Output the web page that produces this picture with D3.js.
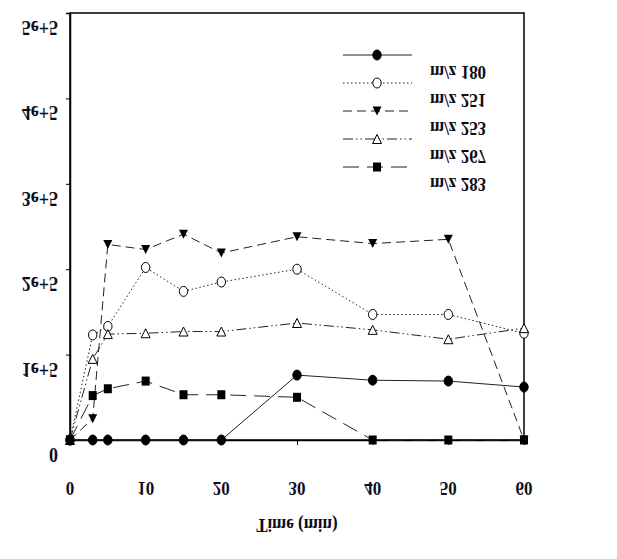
<!DOCTYPE html>
<html><head><meta charset="utf-8">
<script src="https://cdn.jsdelivr.net/npm/d3@7"></script>
<style>body{margin:0;background:#fff}</style>
</head><body>
<svg id="c" width="617" height="559"></svg>
<script>
const times = [0, 3, 5, 10, 15, 20, 30, 40, 50, 60];
const mz180 = [0, 0, 0, 0, 0, 0, 76000, 70000, 69000, 62000];
const mz251 = [0, 123000, 133000, 202000, 174000, 185000, 200000, 147000, 147000, 125000];
const mz253 = [0, 25000, 229000, 223000, 241000, 219000, 238000, 230000, 235000, 0];
const mz267 = [0, 95000, 124000, 125000, 127000, 127000, 137000, 129000, 118000, 131000];
const mz283 = [0, 52000, 60000, 69000, 53000, 53000, 50000, 0, 0, 0];
const seriesNames = ["m/z 180", "m/z 251", "m/z 253", "m/z 267", "m/z 283"];
const xTicks = [0, 10, 20, 30, 40, 50, 60];
const yTicks = [0, 100000, 200000, 300000, 400000, 500000];
const yTickLabels = ["0", "1e+5", "2e+5", "3e+5", "4e+5", "5e+5"];
const xTitle = "Time (min)";

const svg = d3.select("#c");
const L = 70, R = 524, T = 13, B = 440;
const x = d3.scaleLinear().domain([0, 60]).range([L, R]);
const y = d3.scaleLinear().domain([0, 500000]).range([B, T]);
const font = "'Liberation Serif','Times New Roman',serif";
const ink = "#0d0d1a";

function flipText(g, tx, ty, str, size, anchor) {
  g.append("text")
    .attr("transform", `translate(${tx},${ty}) scale(1,-1.15)`)
    .attr("text-anchor", anchor)
    .attr("dominant-baseline", "central")
    .attr("font-family", font).attr("font-weight", "bold")
    .attr("font-size", size).attr("fill", ink)
    .text(str);
}

// frame
svg.append("rect").attr("x", L).attr("y", T).attr("width", R - L).attr("height", B - T)
  .attr("fill", "none").attr("stroke", "#000").attr("stroke-width", 1.5);

// axes
const yAxis = d3.axisLeft(y).tickValues(yTicks).tickSize(4).tickFormat("");
const gy = svg.append("g").attr("transform", `translate(${L},0)`).call(yAxis);
const xAxis = d3.axisBottom(x).tickValues(xTicks).tickSize(5).tickFormat("");
const gx = svg.append("g").attr("transform", `translate(0,${B})`).call(xAxis);
[gy, gx].forEach(g => { g.select(".domain").attr("stroke", "#000").attr("stroke-width", 1.5); g.selectAll(".tick line").attr("stroke", "#000"); });

const lab = svg.append("g");
yTicks.forEach((v, i) => flipText(lab, 58, y(v) + 15, yTickLabels[i], 18, "end"));
xTicks.forEach(v => flipText(lab, x(v), 488, String(v), 17, "middle"));
flipText(lab, 297, 525, xTitle, 17, "middle");

const styles = [
  { data: mz180, dash: null, marker: "fcircle" },
  { data: mz251, dash: "1.5,2.5", marker: "ocircle" },
  { data: mz253, dash: "9,5", marker: "ftri" },
  { data: mz267, dash: "10,3,1.5,3,1.5,3", marker: "otri" },
  { data: mz283, dash: "16,8", marker: "fsquare" }
];

const line = d3.line().x(d => x(d[0])).y(d => y(d[1]));
styles.forEach(s => {
  svg.append("path").datum(times.map((t, i) => [t, s.data[i]]))
    .attr("d", line).attr("fill", "none").attr("stroke", "#222").attr("stroke-width", 1)
    .attr("stroke-dasharray", s.dash);
});

function drawMarker(g, type, cx, cy) {
  if (type === "fcircle" || type === "ocircle") {
    g.append("ellipse").attr("cx", cx).attr("cy", cy).attr("rx", 4.2).attr("ry", 5)
      .attr("fill", type === "fcircle" ? "#000" : "#fff").attr("stroke", "#000").attr("stroke-width", 1);
  } else if (type === "ftri") {
    g.append("path").attr("d", `M${cx-4.5},${cy-4.5}L${cx+4.5},${cy-4.5}L${cx},${cy+4.5}Z`).attr("fill", "#000");
  } else if (type === "otri") {
    g.append("path").attr("d", `M${cx-4.5},${cy+4.5}L${cx+4.5},${cy+4.5}L${cx},${cy-4.5}Z`)
      .attr("fill", "#fff").attr("stroke", "#000").attr("stroke-width", 1);
  } else if (type === "fsquare") {
    g.append("rect").attr("x", cx - 4).attr("y", cy - 4.5).attr("width", 8).attr("height", 9).attr("fill", "#000");
  }
}

const mg = svg.append("g");
styles.forEach(s => {
  times.forEach((t, i) => drawMarker(mg, s.marker, x(t), y(s.data[i])));
});

// legend
const lg = svg.append("g");
styles.forEach((s, i) => {
  const ly = 55 + 28 * i;
  lg.append("line").attr("x1", 343).attr("x2", 412).attr("y1", ly).attr("y2", ly)
    .attr("stroke", "#222").attr("stroke-width", 1).attr("stroke-dasharray", s.dash);
  drawMarker(lg, s.marker, 377, ly);
  flipText(lg, 430, ly + 17, seriesNames[i], 17, "start");
});
</script>
</body></html>
